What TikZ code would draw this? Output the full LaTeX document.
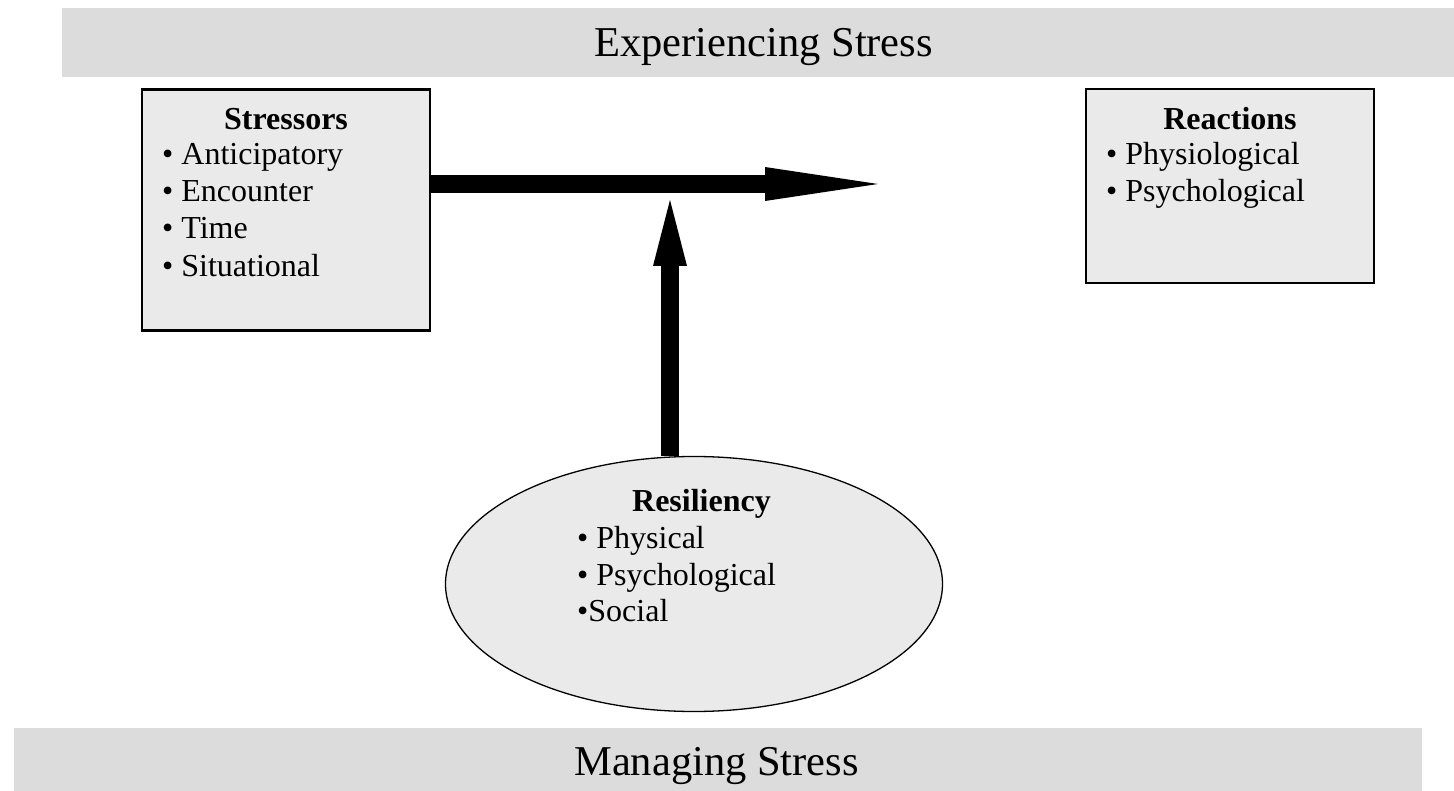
\documentclass[tikz,border=0pt]{standalone}
\usepackage{fontspec}
\setmainfont{Liberation Serif}
\usetikzlibrary{arrows.meta,shapes.geometric}
\definecolor{bandgray}{HTML}{DCDCDC}
\definecolor{boxgray}{HTML}{EAEAEA}
\begin{document}
\begin{tikzpicture}[x=1pt,y=-1pt,
  band/.style={fill=bandgray, draw=none, inner sep=0, outer sep=0, anchor=north west},
  bandtitle/.style={inner sep=0, anchor=base, font=\fontsize{42.5}{50}\selectfont},
  infobox/.style={draw=black, line width=2.5pt, fill=boxgray, inner sep=0},
  oval/.style={ellipse, draw=black, line width=1.3pt, fill=boxgray, inner sep=0},
  headtext/.style={inner sep=0, anchor=base, font=\fontsize{32}{37}\selectfont\bfseries},
  itemtext/.style={inner sep=0, anchor=base west, font=\fontsize{32}{37}\selectfont},
  bigarrow/.style={line width=18pt, -{Triangle[length=113pt,width=34pt,line width=0pt]}},
  uparrow/.style={line width=18pt, -{Triangle[length=66pt,width=34pt,line width=0pt]}}
]
\useasboundingbox (0,0) rectangle (1454,791);

% bands
\node[band, minimum width=1392pt, minimum height=69pt] (topband) at (62,8) {};
\node[band, minimum width=1408pt, minimum height=63pt] (botband) at (14,728) {};
\node[bandtitle] (exptitle) at (763.5,56.5) {Experiencing Stress};
\node[bandtitle] (mantitle) at (716.5,775.5) {Managing Stress};

% boxes
\node[infobox, minimum width=288pt, minimum height=241pt] (stressors) at (286,210) {};
\node[infobox, minimum width=288pt, minimum height=194pt] (reactions) at (1230,186) {};
\node[oval, minimum width=497pt, minimum height=255pt] (resil) at (694,584) {};

% stressors text
\node[headtext] (sthead) at (286,129.3) {Stressors};
\node[itemtext] (st1) at (162,165) {• Anticipatory};
\node[itemtext] (st2) at (162,201.7) {• Encounter};
\node[itemtext] (st3) at (162,238.3) {• Time};
\node[itemtext] (st4) at (162,276.7) {• Situational};

% reactions text
\node[headtext] (rehead) at (1230,129.3) {Reactions};
\node[itemtext] (re1) at (1106,165) {• Physiological};
\node[itemtext] (re2) at (1106,201.7) {• Psychological};

% resiliency text
\node[headtext] (rshead) at (701.5,511.7) {Resiliency};
\node[itemtext] (rs1) at (577,548.3) {• Physical};
\node[itemtext] (rs2) at (577,585) {• Psychological};
\node[itemtext] (rs3) at (577,621.7) {•Social};

% arrows
\coordinate (htip) at (878,184);
\coordinate (vtip) at (670,200);
\draw[bigarrow] (stressors.east |- htip) -- (htip);
\draw[uparrow] (vtip |- resil.north) -- (vtip);
\end{tikzpicture}
\end{document}
